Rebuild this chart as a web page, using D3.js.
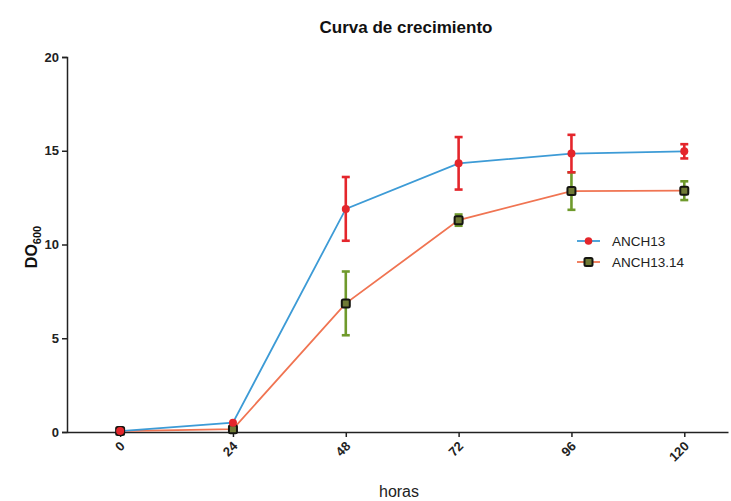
<!DOCTYPE html>
<html><head><meta charset="utf-8">
<script src="https://cdn.jsdelivr.net/npm/d3@7"></script>
<style>body{margin:0;background:#fff}svg{display:block}text{font-family:"Liberation Sans",Arial,sans-serif}</style>
</head><body>
<script>
const hours = [0, 24, 48, 72, 96, 120];
const anch13 = [0.05, 0.5, 11.9, 14.33, 14.85, 14.97];
const anch13Err = [0.05, 0.1, 1.7, 1.4, 1.0, 0.38];
const anch1314 = [0.05, 0.15, 6.86, 11.3, 12.85, 12.87];
const anch1314Err = [0.05, 0.1, 1.7, 0.3, 1.0, 0.5];
const yTicks = [0, 5, 10, 15, 20];
const seriesNames = ["ANCH13", "ANCH13.14"];

const W = 731, H = 501;
const svg = d3.select("body").append("svg").attr("width", W).attr("height", H);
const x = d3.scaleLinear().domain([-11.3, 129.3]).range([67, 728]);
const y = d3.scaleLinear().domain([0, 20]).range([432, 57]);

// axes
const yAxis = svg.append("g").attr("transform", "translate(67,0)")
  .call(d3.axisLeft(y).tickValues(yTicks).tickSize(5).tickPadding(3));
yAxis.select(".domain").attr("stroke", "#222").attr("stroke-width", 1.5);
yAxis.selectAll(".tick line").attr("stroke", "#222").attr("stroke-width", 1.5);
yAxis.selectAll(".tick text").attr("font-size", 13).attr("font-weight", "bold").attr("fill", "#222");

const xAxis = svg.append("g").attr("transform", "translate(0,432)")
  .call(d3.axisBottom(x).tickValues(hours).tickSize(5).tickSizeOuter(0));
xAxis.select(".domain").attr("stroke", "#222").attr("stroke-width", 1.5);
xAxis.selectAll(".tick line").attr("stroke", "#222").attr("stroke-width", 1.5);
xAxis.selectAll(".tick text").attr("font-size", 13).attr("font-weight", "bold").attr("fill", "#222")
  .attr("text-anchor", "end").attr("dy", 0).attr("y", 0)
  .attr("transform", "translate(5,15) rotate(-45)");

// lines
const line = d3.line().x((d, i) => x(hours[i])).y(d => y(d));
svg.append("path").datum(anch1314).attr("d", line).attr("fill", "none").attr("stroke", "#f07452").attr("stroke-width", 1.8);
svg.append("path").datum(anch13).attr("d", line).attr("fill", "none").attr("stroke", "#3d9bd6").attr("stroke-width", 1.8);

function errBars(vals, errs, color) {
  const g = svg.append("g").attr("stroke", color).attr("stroke-width", 2.6).attr("fill", "none");
  vals.forEach((v, i) => {
    if (errs[i] < 0.2) return;
    const cx = x(hours[i]), t = y(v + errs[i]), b = y(v - errs[i]);
    g.append("line").attr("x1", cx).attr("x2", cx).attr("y1", t).attr("y2", b);
    g.append("line").attr("x1", cx - 4).attr("x2", cx + 4).attr("y1", t).attr("y2", t);
    g.append("line").attr("x1", cx - 4).attr("x2", cx + 4).attr("y1", b).attr("y2", b);
  });
}
errBars(anch1314, anch1314Err, "#6f9a2c");
errBars(anch13, anch13Err, "#e4262c");

// markers
svg.append("g").selectAll("rect").data(anch1314).join("rect")
  .attr("x", (d, i) => x(hours[i]) - 4).attr("y", d => y(d) - 4)
  .attr("width", 8).attr("height", 8).attr("rx", 1.5)
  .attr("fill", "#6f7a35").attr("stroke", "#151510").attr("stroke-width", 2);
svg.append("g").selectAll("circle").data(anch13).join("circle")
  .attr("cx", (d, i) => x(hours[i])).attr("cy", d => y(d)).attr("r", 4)
  .attr("fill", "#e4262c");

// legend
const lg = svg.append("g");
[0, 1].forEach(k => {
  const ly = 241 + k * 21;
  lg.append("line").attr("x1", 577).attr("x2", 600).attr("y1", ly).attr("y2", ly)
    .attr("stroke", k === 0 ? "#3d9bd6" : "#f07452").attr("stroke-width", 1.8);
  if (k === 0) lg.append("circle").attr("cx", 588.5).attr("cy", ly).attr("r", 3.8).attr("fill", "#e4262c");
  else lg.append("rect").attr("x", 584.5).attr("y", ly - 4).attr("width", 8).attr("height", 8).attr("rx", 1.5)
    .attr("fill", "#6f7a35").attr("stroke", "#151510").attr("stroke-width", 2);
  lg.append("text").attr("x", 612).attr("y", ly + 5).attr("font-size", 13.5).attr("fill", "#222").text(seriesNames[k]);
});

// titles
svg.append("text").attr("x", 406).attr("y", 33).attr("text-anchor", "middle")
  .attr("font-size", 17).attr("font-weight", "bold").attr("fill", "#111").text("Curva de crecimiento");
svg.append("text").attr("x", 399).attr("y", 497).attr("text-anchor", "middle")
  .attr("font-size", 16).attr("fill", "#222").text("horas");
const yl = svg.append("text").attr("transform", "translate(37,247) rotate(-90)").attr("text-anchor", "middle")
  .attr("font-weight", "bold").attr("fill", "#111").attr("font-size", 16);
yl.append("tspan").text("DO");
yl.append("tspan").attr("font-size", 11).attr("dy", 4).text("600");
</script>
</body></html>
